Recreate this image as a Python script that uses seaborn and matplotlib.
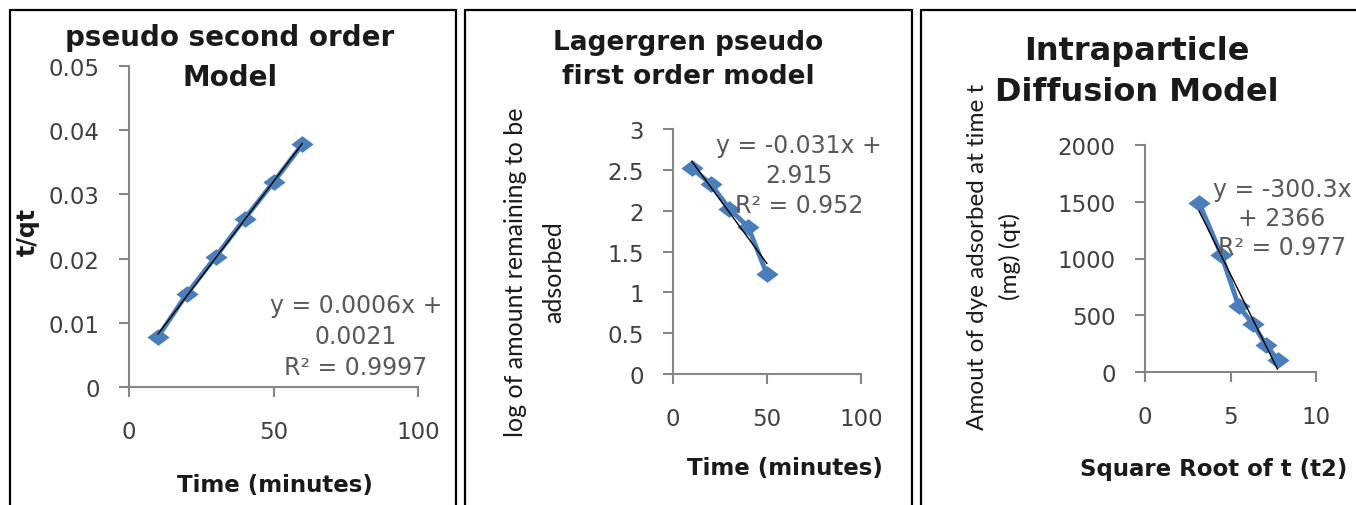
import numpy as np
import pandas as pd
import matplotlib
matplotlib.use("Agg")
import matplotlib.pyplot as plt
from matplotlib.lines import Line2D
from matplotlib.ticker import FuncFormatter
import seaborn as sns

# ---- data ----
time_min = [10, 20, 30, 40, 50, 60]
t_over_qt = [0.0078, 0.0145, 0.0203, 0.0262, 0.0319, 0.0378]

time_lag = [10, 20, 30, 40, 50]
log_remaining = [2.52, 2.33, 2.02, 1.80, 1.22]

sqrt_t = [3.16, 4.47, 5.48, 6.32, 7.07, 7.75]
qt_amount = [1490, 1030, 580, 420, 240, 110]

titles = ["pseudo second order\nModel", "Lagergren pseudo\nfirst order model",
          "Intraparticle\nDiffusion Model"]
eq_texts = ["y = 0.0006x +\n0.0021\nR² = 0.9997",
            "y = -0.031x +\n2.915\nR² = 0.952",
            "y = -300.3x\n+ 2366\nR² = 0.977"]
xlabels = ["Time (minutes)", "Time (minutes)", "Square Root of t (t2)"]
ylabels = ["t/qt", "log of amount remaining to be\nadsorbed",
           "Amout of dye adsorbed at time t\n(mg) (qt)"]

sns.set_theme(style="white")
plt.rcParams['font.family'] = ['DejaVu Sans']

W, H = 1356, 506
fig = plt.figure(figsize=(W / 100, H / 100), dpi=100)
fig.patch.set_facecolor("white")

BLUE = "#4A7EBB"
AXC = "#868686"
TICKC = "#404040"
EQC = "#595959"

def fx(px):
    return px / W

def fy(py):
    return 1 - py / H

def make_axes(l, r, t, b):
    return fig.add_axes([fx(l), fy(b), fx(r) - fx(l), (b - t) / H])

diamond = [(-1, 0), (0, 0.75), (1, 0), (0, -0.75), (-1, 0)]

def style(ax, xlim, ylim, xticks, yticks):
    ax.set_xlim(*xlim)
    ax.set_ylim(*ylim)
    ax.set_xticks(xticks)
    ax.set_yticks(yticks)
    fmt = FuncFormatter(lambda v, p: f"{v:g}")
    ax.xaxis.set_major_formatter(fmt)
    ax.yaxis.set_major_formatter(fmt)
    for s in ["top", "right"]:
        ax.spines[s].set_visible(False)
    for s in ["left", "bottom"]:
        ax.spines[s].set_color(AXC)
        ax.spines[s].set_linewidth(1.5)
    ax.tick_params(axis="both", which="major", direction="out", length=7,
                   width=1.5, color=AXC, labelcolor=TICKC, labelsize=16.5)
    ax.tick_params(axis="x", pad=17, bottom=True)
    ax.tick_params(axis="y", pad=14, left=True)
    ax.set_xlabel("")
    ax.set_ylabel("")
    ax.set_facecolor("white")
    ax.patch.set_alpha(0)

def draw(ax, x, y):
    df = pd.DataFrame({"x": x, "y": y})
    sns.lineplot(data=df, x="x", y="y", ax=ax, color=BLUE, linewidth=3.5,
                 marker=diamond, markersize=16, markeredgewidth=0,
                 markerfacecolor=BLUE, zorder=2)
    sns.regplot(data=df, x="x", y="y", ax=ax, scatter=False, ci=None,
                line_kws=dict(color="black", linewidth=1.0, zorder=3))

# Panel 1
ax1 = make_axes(129, 418, 67, 388)
draw(ax1, time_min, t_over_qt)
style(ax1, (0, 100), (0, 0.05), [0, 50, 100], [0, 0.01, 0.02, 0.03, 0.04, 0.05])

# Panel 2
ax2 = make_axes(673, 861, 130, 375)
draw(ax2, time_lag, log_remaining)
style(ax2, (0, 100), (0, 3), [0, 50, 100], [0, 0.5, 1, 1.5, 2, 2.5, 3])

# Panel 3
ax3 = make_axes(1145, 1316, 146, 373)
draw(ax3, sqrt_t, qt_amount)
style(ax3, (0, 10), (0, 2000), [0, 5, 10], [0, 500, 1000, 1500, 2000])

# Titles (panel 1 title drawn line by line)
t1_lines = titles[0].split("\n")
fig.text(fx(230), fy(38), t1_lines[0], ha="center", va="center", fontsize=20,
         fontweight="bold", color="#1a1a1a")
fig.text(fx(230), fy(78), t1_lines[1], ha="center", va="center", fontsize=20,
         fontweight="bold", color="#1a1a1a")
fig.text(fx(688), fy(60), titles[1], ha="center", va="center", fontsize=19,
         fontweight="bold", color="#1a1a1a", linespacing=1.4)
fig.text(fx(1137), fy(72), titles[2], ha="center", va="center", fontsize=23,
         fontweight="bold", color="#1a1a1a", linespacing=1.45)

# Equation texts
fig.text(fx(356), fy(337), eq_texts[0], ha="center", va="center", fontsize=17,
         color=EQC, linespacing=1.35)
fig.text(fx(799), fy(176), eq_texts[1], ha="center", va="center", fontsize=17,
         color=EQC, linespacing=1.3)
fig.text(fx(1282), fy(219), eq_texts[2], ha="center", va="center", fontsize=17,
         color=EQC, linespacing=1.25)

# X labels
fig.text(fx(275), fy(486), xlabels[0], ha="center", va="center", fontsize=16.5,
         fontweight="bold", color="#1a1a1a")
fig.text(fx(785), fy(469), xlabels[1], ha="center", va="center", fontsize=16.5,
         fontweight="bold", color="#1a1a1a")
fig.text(fx(1080), fy(470), xlabels[2], ha="left", va="center", fontsize=16.5,
         fontweight="bold", color="#1a1a1a")

# Y labels
fig.text(fx(28), fy(232), ylabels[0], ha="center", va="center", fontsize=17,
         fontweight="bold", rotation=90, color="#1a1a1a")
fig.text(fx(535), fy(272), ylabels[1], ha="center", va="center", fontsize=18,
         rotation=90, color="#1a1a1a", family=["Lato", "DejaVu Sans"],
         linespacing=1.8)
fig.text(fx(994), fy(257), ylabels[2], ha="center", va="center", fontsize=17.5,
         rotation=90, color="#1a1a1a", family=["Lato", "DejaVu Sans"],
         linespacing=1.6)

# Panel borders
def vline(x, y0, y1):
    fig.add_artist(Line2D([fx(x), fx(x)], [fy(y0), fy(y1)], color="black",
                          linewidth=1.6, transform=fig.transFigure))

def hline(y, x0, x1):
    fig.add_artist(Line2D([fx(x0), fx(x1)], [fy(y), fy(y)], color="black",
                          linewidth=1.6, transform=fig.transFigure))

for (l, r) in [(10, 456), (465, 912), (921, 1360)]:
    vline(l, 11, 510)
    vline(r, 11, 510)
    hline(11, l, r)

fig.savefig("out.png", dpi=100, facecolor="white")
